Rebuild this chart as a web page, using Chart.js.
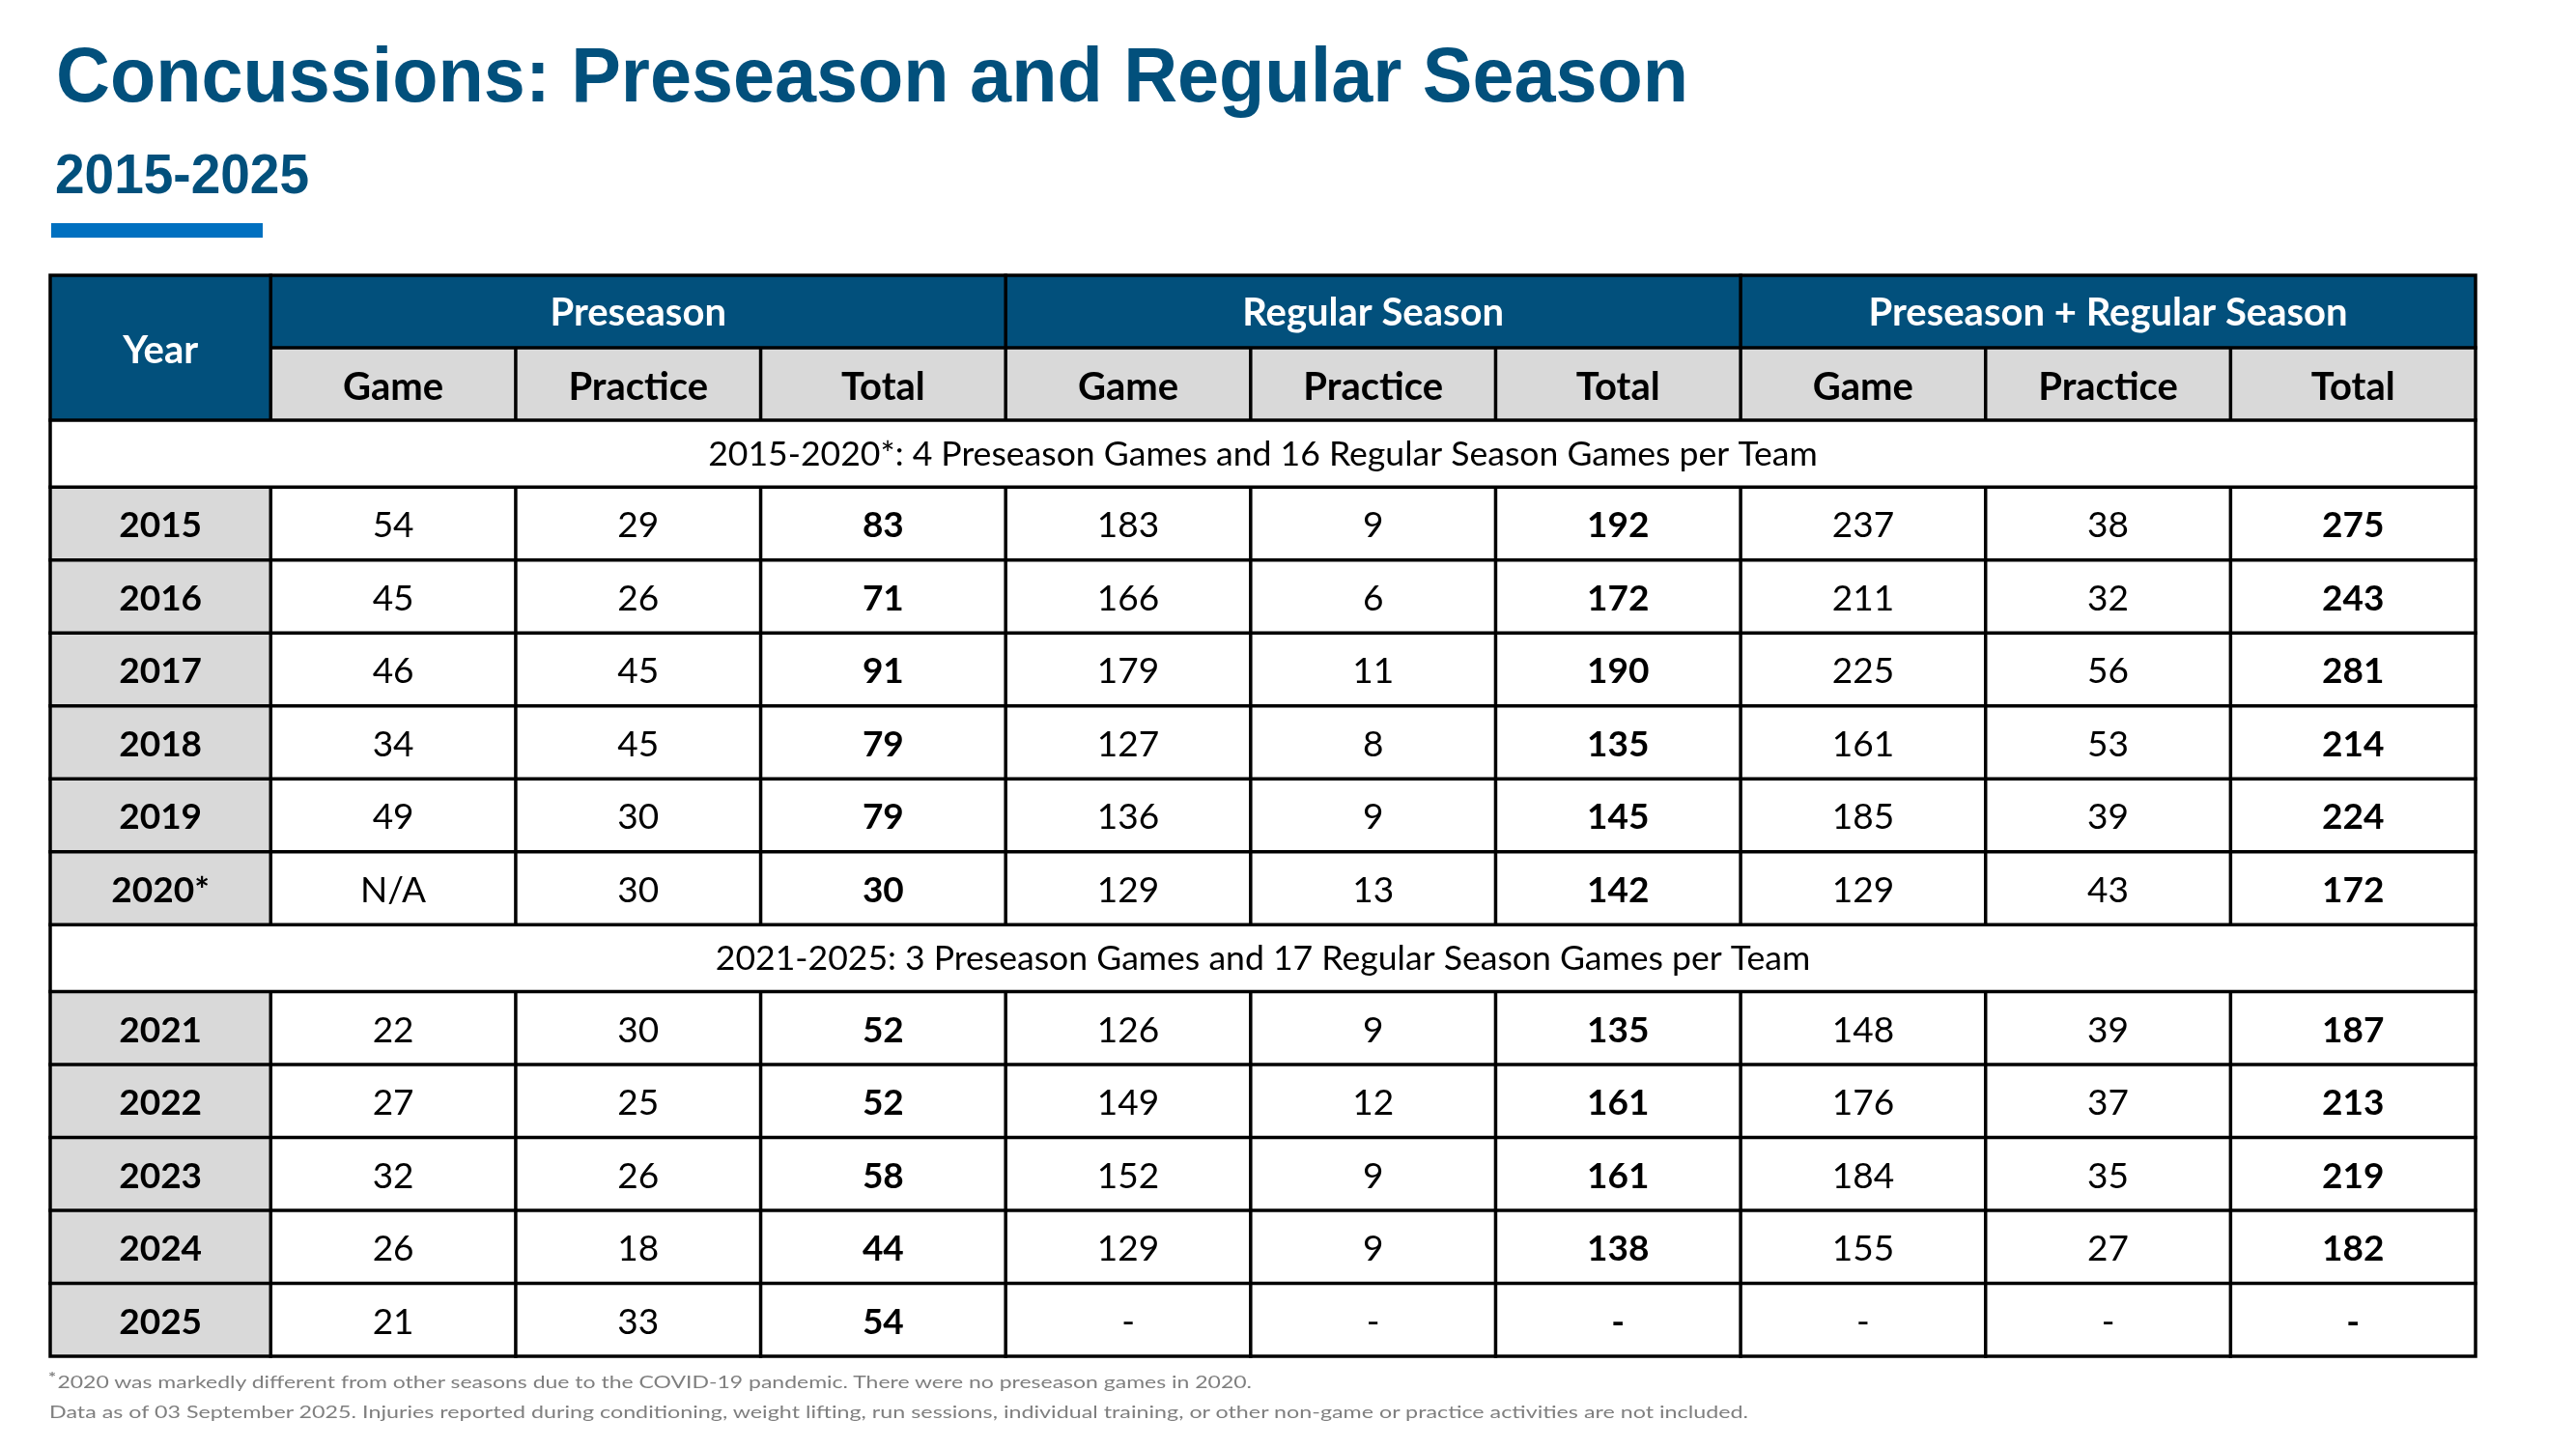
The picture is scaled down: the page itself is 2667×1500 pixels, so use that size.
<!DOCTYPE html>
<html>
<head>
<meta charset="utf-8">
<title>Concussions: Preseason and Regular Season</title>
<script src="https://cdn.jsdelivr.net/npm/chart.js@4.4.1/dist/chart.umd.min.js"></script>
<style>
    html, body { margin: 0; padding: 0; background: #fff; }
    #page { position: relative; width: 2667px; height: 1500px; overflow: hidden; }
    #tableChart { position: absolute; left: 0; top: 0; }
    .txt { position: absolute; top: 0; white-space: nowrap; line-height: 1; transform-origin: left top; }
    #title { left: 58px; font: bold 80px "Liberation Sans", Arial, sans-serif; color: #02507c; }
    #subtitle { left: 57px; font: bold 58px "Liberation Sans", Arial, sans-serif; color: #02507c; }
    #accent { position: absolute; left: 53px; top: 231px; width: 219px; height: 15px; background: #0070c0; }
    .foot { font: 18px Lato, "Open Sans", sans-serif; color: #7f7f7f; }
    .foot .star { font-size: 15px; font-weight: bold; position: relative; top: -6px; margin-right: 1px; }
</style>
</head>
<body>
<div id="page">
    <div id="title" class="txt" data-w="1690" data-base="105">Concussions: Preseason and Regular Season</div>
    <div id="subtitle" class="txt" data-w="263" data-base="200">2015-2025</div>
    <div id="accent"></div>
    <canvas id="tableChart" width="2667" height="1500"></canvas>
    <div id="foot1" class="txt foot" style="left:50px;" data-w="1246" data-base="1437"><span class="star">*</span>2020 was markedly different from other seasons due to the COVID-19 pandemic. There were no preseason games in 2020.</div>
    <div id="foot2" class="txt foot" style="left:51px;" data-w="1759" data-base="1468">Data as of 03 September 2025. Injuries reported during conditioning, weight lifting, run sessions, individual training, or other non-game or practice activities are not included.</div>
</div>
<script>
const years = ["2015", "2016", "2017", "2018", "2019", "2020*", "2021", "2022", "2023", "2024", "2025"];
const preGame = [54, 45, 46, 34, 49, "N/A", 22, 27, 32, 26, 21];
const prePractice = [29, 26, 45, 45, 30, 30, 30, 25, 26, 18, 33];
const preTotal = [83, 71, 91, 79, 79, 30, 52, 52, 58, 44, 54];
const regGame = [183, 166, 179, 127, 136, 129, 126, 149, 152, 129, "-"];
const regPractice = [9, 6, 11, 8, 9, 13, 9, 12, 9, 9, "-"];
const regTotal = [192, 172, 190, 135, 145, 142, 135, 161, 161, 138, "-"];
const allGame = [237, 211, 225, 161, 185, 129, 148, 176, 184, 155, "-"];
const allPractice = [38, 32, 56, 53, 39, 43, 39, 37, 35, 27, "-"];
const allTotal = [275, 243, 281, 214, 224, 172, 187, 213, 219, 182, "-"];

const groupLabels = ["Preseason", "Regular Season", "Preseason + Regular Season"];
const subLabels = ["Game", "Practice", "Total"];
const yearLabel = "Year";
const eraNotes = [
    "2015-2020*: 4 Preseason Games and 16 Regular Season Games per Team",
    "2021-2025: 3 Preseason Games and 17 Regular Season Games per Team",
];
const eraStart = [0, 6]; // index in years where each note row goes

// layout (units on the hidden linear scales)
const layout = {
    colUnits: [0.9, 1, 1, 1, 1, 1, 1, 1, 1, 1],
    headUnit: 0.993,
    noteUnit: 0.917,
    dataUnit: 1,
    blue: "#02507c",
    gray: "#d9d9d9",
    line: 3.5,
    font: "Lato, 'Open Sans', sans-serif",
};

const valueCols = [preGame, prePractice, preTotal, regGame, regPractice, regTotal, allGame, allPractice, allTotal];

// row model
const rows = [];
rows.push({ kind: "group", h: layout.headUnit });
rows.push({ kind: "sub", h: layout.headUnit });
years.forEach((yr, i) => {
    const e = eraStart.indexOf(i);
    if (e >= 0) rows.push({ kind: "note", text: eraNotes[e], h: layout.noteUnit });
    rows.push({ kind: "data", i: i, h: layout.dataUnit });
});
let acc = 0;
rows.forEach((r) => { r.start = acc; acc += r.h; });
const rowTotal = acc;

const colEdges = [0];
layout.colUnits.forEach((u) => colEdges.push(colEdges[colEdges.length - 1] + u));
const colTotal = colEdges[colEdges.length - 1];

function centerText(ctx, text, cx, cy, font, color) {
    ctx.font = font;
    ctx.fillStyle = color;
    ctx.textAlign = "center";
    ctx.textBaseline = "alphabetic";
    const cap = ctx.measureText("H").actualBoundingBoxAscent;
    ctx.fillText(text, cx, cy + cap / 2);
}

const tablePlugin = {
    id: "concussionTable",
    afterDraw(chart) {
        const { ctx } = chart;
        const xs = chart.scales.x;
        const ys = chart.scales.y;
        const X = (i) => xs.getPixelForValue(colEdges[i]);
        const Y = (v) => ys.getPixelForValue(v);
        const nCols = colEdges.length - 1;
        const left = X(0), right = X(nCols);
        const top = Y(0), bottom = Y(rowTotal);

        ctx.save();

        const headFont = "bold 40px " + layout.font;
        const numFont = "37px " + layout.font;
        const numBold = "bold 37px " + layout.font;

        // note font sized to the reference width
        ctx.font = "36px " + layout.font;
        const noteSize = 36 * 1134 / ctx.measureText(eraNotes[1]).width;
        const noteFont = noteSize.toFixed(2) + "px " + layout.font;

        rows.forEach((r) => {
            const y0 = Y(r.start), y1 = Y(r.start + r.h);
            const cy = (y0 + y1) / 2;
            if (r.kind === "group") {
                const yEnd = Y(rows[1].start + rows[1].h);
                ctx.fillStyle = layout.blue;
                ctx.fillRect(left, y0, X(1) - left, yEnd - y0);
                centerText(ctx, yearLabel, (left + X(1)) / 2, (y0 + yEnd) / 2 + 2, headFont, "#fff");
                groupLabels.forEach((g, k) => {
                    const a = X(1 + k * 3), b = X(4 + k * 3);
                    ctx.fillStyle = layout.blue;
                    ctx.fillRect(a, y0, b - a, y1 - y0);
                    centerText(ctx, g, (a + b) / 2, cy, headFont, "#fff");
                });
            } else if (r.kind === "sub") {
                for (let c = 1; c < nCols; c++) {
                    const a = X(c), b = X(c + 1);
                    ctx.fillStyle = layout.gray;
                    ctx.fillRect(a, y0, b - a, y1 - y0);
                    centerText(ctx, subLabels[(c - 1) % 3], (a + b) / 2, cy + 2, headFont, "#000");
                }
            } else if (r.kind === "note") {
                ctx.fillStyle = "#fff";
                ctx.fillRect(left, y0, right - left, y1 - y0);
                centerText(ctx, r.text, (left + right) / 2, cy, noteFont, "#000");
            } else {
                ctx.fillStyle = layout.gray;
                ctx.fillRect(left, y0, X(1) - left, y1 - y0);
                centerText(ctx, years[r.i], (left + X(1)) / 2, cy + 1.5, numBold, "#000");
                valueCols.forEach((col, k) => {
                    const a = X(k + 1), b = X(k + 2);
                    const bold = k % 3 === 2;
                    centerText(ctx, String(col[r.i]), (a + b) / 2, cy + 1.5, bold ? numBold : numFont, "#000");
                });
            }
        });

        // grid lines
        ctx.strokeStyle = "#000";
        ctx.lineWidth = layout.line;
        ctx.lineCap = "square";
        ctx.beginPath();
        rows.forEach((r, idx) => {
            if (idx === 0) return;
            const yy = Y(r.start);
            const x0 = r.kind === "sub" ? X(1) : left;
            ctx.moveTo(x0, yy);
            ctx.lineTo(right, yy);
        });
        rows.forEach((r) => {
            const y0 = Y(r.start), y1 = Y(r.start + r.h);
            if (r.kind === "note") return;
            for (let c = 1; c < nCols; c++) {
                if (r.kind === "group" && (c - 1) % 3 !== 0) continue;
                ctx.moveTo(X(c), y0);
                ctx.lineTo(X(c), y1);
            }
        });
        ctx.stroke();
        ctx.strokeRect(left, top, right - left, bottom - top);

        ctx.restore();
    },
};

new Chart(document.getElementById("tableChart").getContext("2d"), {
    type: "scatter",
    data: { datasets: [{ data: [] }] },
    options: {
        responsive: false,
        animation: false,
        events: [],
        layout: { padding: { left: 52, top: 285, right: 104, bottom: 96 } },
        scales: {
            x: { type: "linear", min: 0, max: colTotal, display: false },
            y: { type: "linear", min: 0, max: rowTotal, reverse: true, display: false },
        },
        plugins: { legend: { display: false }, tooltip: { enabled: false }, title: { display: false } },
    },
    plugins: [tablePlugin],
});

// put html texts on their baselines and squeeze them to the reference widths
document.querySelectorAll(".txt[data-w]").forEach((el) => {
    const probe = document.createElement("span");
    probe.style.cssText = "display:inline-block;width:0;height:0;vertical-align:baseline;";
    el.appendChild(probe);
    const off = probe.getBoundingClientRect().top - el.getBoundingClientRect().top;
    el.removeChild(probe);
    el.style.top = (Number(el.getAttribute("data-base")) - off) + "px";
    const w = el.getBoundingClientRect().width;
    el.style.transform = "scaleX(" + (Number(el.getAttribute("data-w")) / w).toFixed(4) + ")";
});
</script>
</body>
</html>
